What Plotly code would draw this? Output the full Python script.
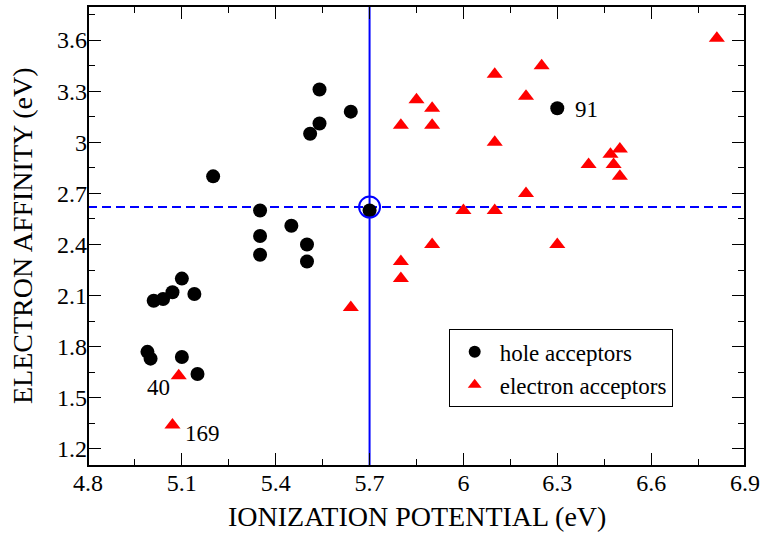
import plotly.graph_objects as go

# Hole acceptors (black circles)
hole_ip = [5.54, 5.64, 5.54, 5.51, 5.20, 5.35, 5.45, 5.35, 5.50, 5.70, 5.35, 5.50,
           5.10, 5.14, 5.07, 5.01, 5.04, 4.99, 5.00, 5.10, 5.15, 6.30]
hole_ea = [3.31, 3.18, 3.11, 3.05, 2.80, 2.60, 2.51, 2.45, 2.40, 2.60, 2.34, 2.30,
           2.20, 2.11, 2.12, 2.07, 2.08, 1.77, 1.73, 1.74, 1.64, 3.20]

# Electron acceptors (red triangles)
elec_ip = [6.81, 6.25, 6.10, 5.85, 6.20, 5.90, 5.80, 5.90, 6.10, 6.50, 6.47, 6.40,
           6.48, 6.50, 6.20, 6.00, 6.10, 5.90, 6.30, 5.80, 5.80, 5.64, 5.09, 5.07]
elec_ea = [3.61, 3.45, 3.40, 3.25, 3.27, 3.20, 3.10, 3.10, 3.00, 2.96, 2.93, 2.87,
           2.87, 2.80, 2.70, 2.60, 2.60, 2.40, 2.40, 2.30, 2.20, 2.03, 1.63, 1.34]

# Reference point (average IP / EA)
ref_ip = 5.70
ref_ea = 2.62

# Labelled molecules
label_text = ["91", "40", "169"]
label_ip = [6.35, 5.024, 5.165]
label_ea = [3.19, 1.56, 1.29]
label_anchor = ["left", "center", "center"]

x_range = [4.8, 6.9]
y_range = [1.1, 3.8]
x_ticks = [4.8, 5.1, 5.4, 5.7, 6.0, 6.3, 6.6, 6.9]
x_tick_text = ["4.8", "5.1", "5.4", "5.7", "6", "6.3", "6.6", "6.9"]
y_ticks = [1.2, 1.5, 1.8, 2.1, 2.4, 2.7, 3.0, 3.3, 3.6]
y_tick_text = ["1.2", "1.5", "1.8", "2.1", "2.4", "2.7", "3", "3.3", "3.6"]

x_title = "IONIZATION POTENTIAL (eV)"
y_title = "ELECTRON AFFINITY (eV)"

FONT = "Liberation Serif, Times New Roman, serif"

fig = go.Figure()

fig.add_trace(go.Scatter(
    x=hole_ip, y=hole_ea, mode="markers", name="hole acceptors",
    marker=dict(symbol="circle", size=14, color="black"),
))
fig.add_trace(go.Scatter(
    x=elec_ip, y=elec_ea, mode="markers", name="electron acceptors",
    marker=dict(symbol="triangle-up", size=14, color="red"),
))
fig.add_trace(go.Scatter(
    x=[ref_ip], y=[ref_ea], mode="markers", showlegend=False,
    marker=dict(symbol="circle-open", size=21, color="blue", line=dict(width=2, color="blue")),
))
# invisible trace to activate the mirrored (top/right) tick axes
fig.add_trace(go.Scatter(
    x=[ref_ip], y=[ref_ea], mode="markers", showlegend=False, hoverinfo="skip",
    xaxis="x2", yaxis="y2", marker=dict(opacity=0),
))

fig.add_shape(type="line", xref="x", yref="y domain", x0=ref_ip, x1=ref_ip, y0=0, y1=1,
              line=dict(color="blue", width=2), layer="below")
fig.add_shape(type="line", xref="x domain", yref="y", x0=0, x1=1, y0=ref_ea, y1=ref_ea,
              line=dict(color="blue", width=2, dash="9px,5px"), layer="below")
# plot frame
fig.add_shape(type="rect", xref="x domain", yref="y domain", x0=0, x1=1, y0=0, y1=1,
              line=dict(color="black", width=2), fillcolor="rgba(0,0,0,0)", layer="above")

for t, xx, yy, a in zip(label_text, label_ip, label_ea, label_anchor):
    fig.add_annotation(x=xx, y=yy, text=t, showarrow=False, xanchor=a, yanchor="middle",
                       font=dict(family=FONT, size=23, color="black"))

# Axis titles
fig.add_annotation(x=0.5, y=0, xref="paper", yref="paper", text=x_title, showarrow=False,
                   xanchor="center", yanchor="middle", yshift=-50,
                   font=dict(family=FONT, size=28, color="black"))
fig.add_annotation(x=0, y=0.5, xref="paper", yref="paper", text=y_title, showarrow=False,
                   xanchor="center", yanchor="middle", xshift=-66, textangle=-90,
                   font=dict(family=FONT, size=28, color="black"))

axis_common = dict(
    showgrid=False, zeroline=False, showline=False,
    ticks="inside", ticklen=13, tickwidth=1, tickcolor="black",
    tickfont=dict(family=FONT, size=24, color="black"), automargin=False,
)
minor_x = dict(dtick=0.15, tick0=4.8, ticks="inside", ticklen=7, tickcolor="black", tickwidth=1)
minor_y = dict(dtick=0.15, tick0=1.2, ticks="inside", ticklen=7, tickcolor="black", tickwidth=1)

fig.update_layout(
    xaxis=dict(range=x_range, tickvals=x_ticks, ticktext=x_tick_text, minor=minor_x,
               ticklabelstandoff=0, **axis_common),
    yaxis=dict(range=y_range, tickvals=y_ticks, ticktext=y_tick_text, minor=minor_y,
               ticklabelstandoff=0, **axis_common),
    xaxis2=dict(range=x_range, tickvals=x_ticks, minor=minor_x, overlaying="x", side="top",
                anchor="y2", showticklabels=False, **axis_common),
    yaxis2=dict(range=y_range, tickvals=y_ticks, minor=minor_y, overlaying="y", side="right",
                anchor="x2", showticklabels=False, **axis_common),
)

fig.update_layout(
    width=761, height=535,
    margin=dict(l=88, r=16, t=6, b=69),
    paper_bgcolor="white", plot_bgcolor="white",
    font=dict(family=FONT, size=23, color="black"),
    legend=dict(
        x=0.549, y=0.297, xanchor="left", yanchor="top",
        bordercolor="black", borderwidth=1, bgcolor="white",
        font=dict(family=FONT, size=23, color="black"),
        tracegroupgap=0, itemsizing="constant", itemwidth=40,
    ),
    showlegend=True,
)

fig.write_html("out.html", config={"displayModeBar": False},
               post_script="document.body.style.margin='0';document.body.style.overflow='hidden';")
